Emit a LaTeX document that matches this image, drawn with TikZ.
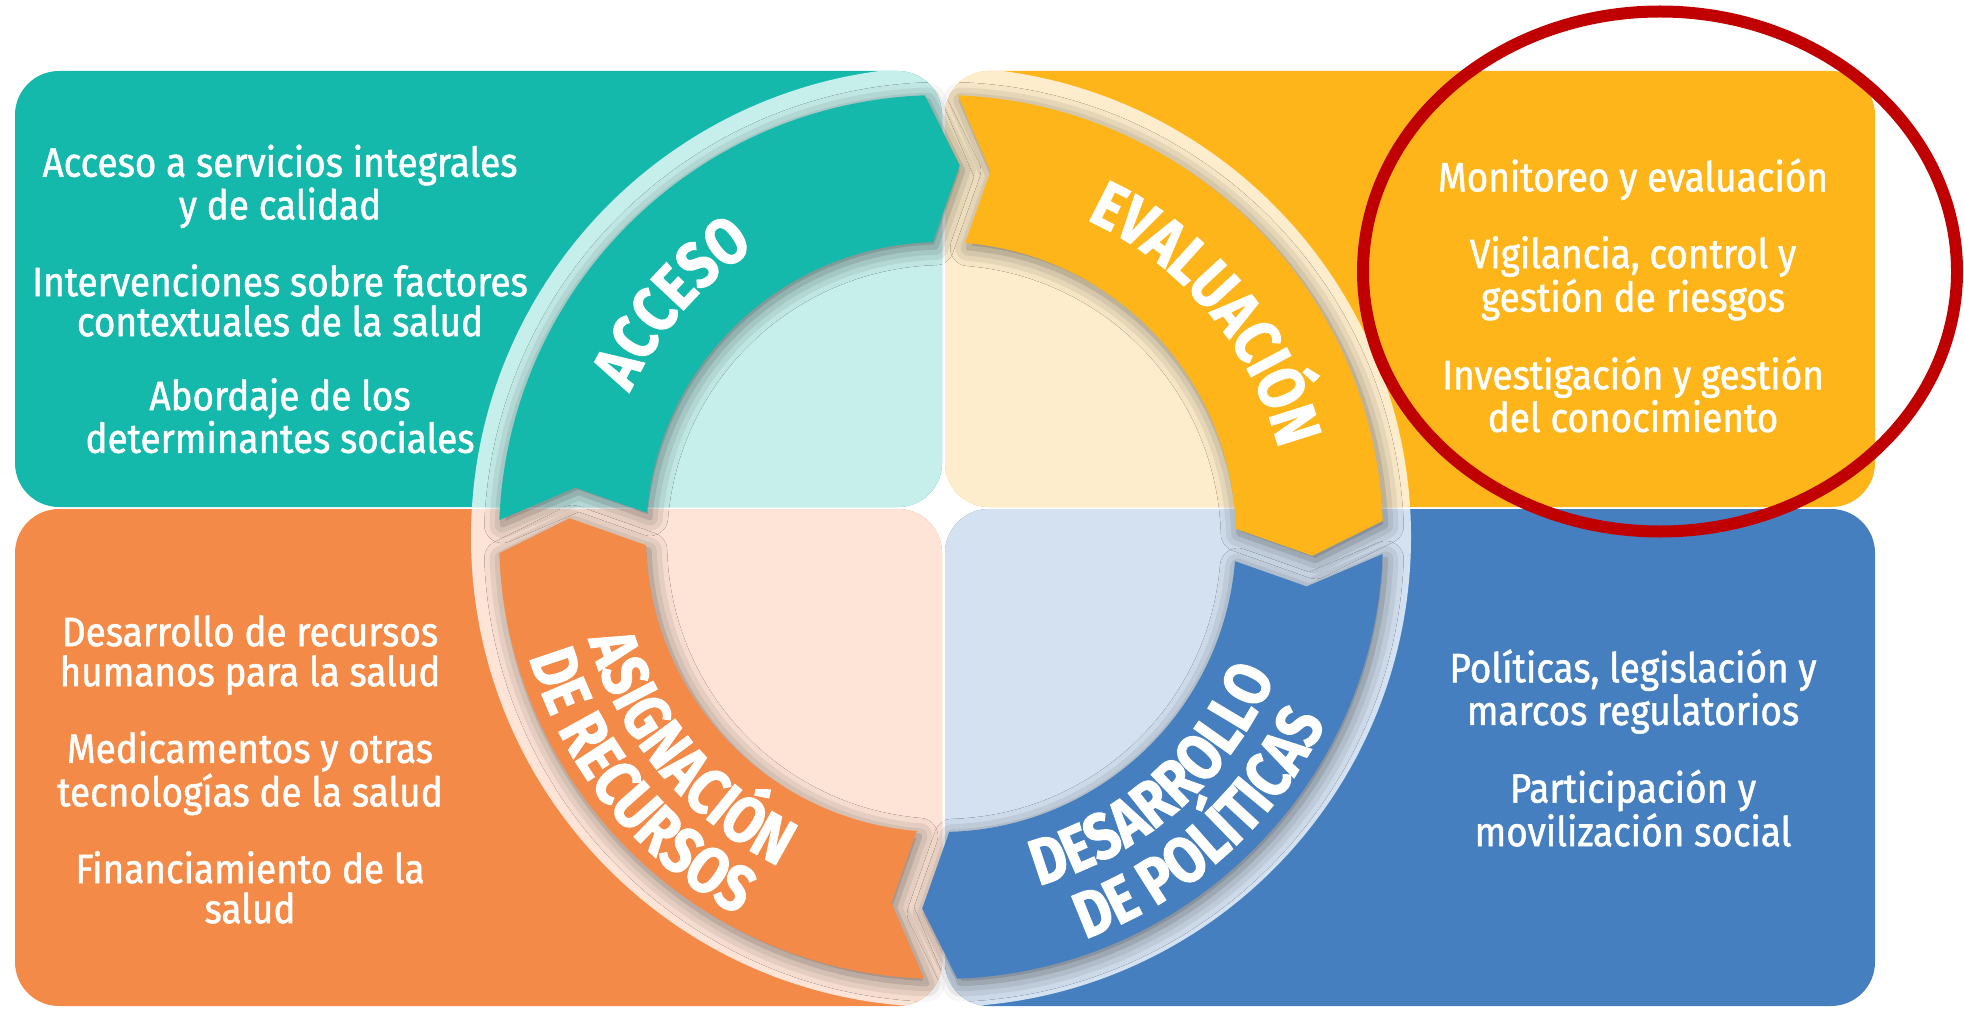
\documentclass[tikz,border=0pt]{standalone}
\usepackage{fontspec}
\setmainfont{Fira Sans}
\newfontfamily\itemfont[FakeStretch=0.9, FakeBold=1.3]{Fira Sans}
\newfontfamily\ringfont[FakeStretch=0.84, FakeBold=1.6]{Fira Sans}
\usetikzlibrary{positioning, decorations.text, shadows.blur}

\definecolor{tealc}{HTML}{14B9AC}
\definecolor{tealL}{HTML}{C6EEEA}
\definecolor{yellowc}{HTML}{FDB519}
\definecolor{yellowL}{HTML}{FDEDCC}
\definecolor{orangec}{HTML}{F48A47}
\definecolor{orangeL}{HTML}{FDE4D6}
\definecolor{bluec}{HTML}{457FC0}
\definecolor{blueL}{HTML}{D3E1F0}
\definecolor{markred}{HTML}{C00000}

\newcommand{\ringlabel}{\ringfont\bfseries\fontsize{32.5pt}{32.5pt}\selectfont}
% one arrow of the ring: tail angle, head angle
\newcommand{\ringpath}[2]{(#1:442) arc[start angle=#1, end angle=#2, radius=442]
	-- ({#2-5}:372) -- ({#2-0.5}:295)
	arc[start angle={#2-0.5}, end angle={#1-2.5}, radius=295]
	-- ({#1-5.5}:369) -- cycle}

\begin{document}
\begin{tikzpicture}[x=0.5pt, y=0.5pt,
		box/.style={inner sep=0pt, rounded corners=22pt},
		item/.style={text=white, align=center, font=\itemfont\fontsize{20.5pt}{20pt}\selectfont},
		ringshadow/.style={blur shadow={shadow xshift=1.5pt, shadow yshift=-2.5pt, shadow blur radius=9pt, shadow opacity=50}},
		ringtext/.style={decorate, decoration={text along path, text align=center, text color=white, text={|\ringlabel|#1}}}]
		\useasboundingbox (0,0) rectangle (1964,1009);
		\coordinate (ring) at (941,472);

		% Boxes
		\begin{scope}
			\node (acceso_box) at (478.5,720) [box, fill=tealc, minimum width=463.5pt, minimum height=218pt,
				path picture={\fill[tealL] (ring) circle[radius=470];}] {};
			\node (eval_box) at (1410,720) [box, fill=yellowc, minimum width=465pt, minimum height=218pt,
				path picture={\fill[yellowL] (ring) circle[radius=470];}] {};
			\node (recursos_box) at (478.5,251.5) [box, fill=orangec, minimum width=463.5pt, minimum height=248.5pt,
				path picture={\fill[orangeL] (ring) circle[radius=470];}] {};
			\node (politicas_box) at (1410,251.5) [box, fill=bluec, minimum width=465pt, minimum height=248.5pt,
				path picture={\fill[blueL] (ring) circle[radius=470];}] {};
		\end{scope}

		% Ring
		\begin{scope}[shift={(ring)}]
			\path[ringshadow] \ringpath{267.8}{182.1};
			\path[ringshadow] \ringpath{-2.2}{-87.9};
			\path[ringshadow] \ringpath{87.8}{2.1};
			\path[ringshadow] \ringpath{177.8}{92.1};

			\fill[orangec] \ringpath{267.8}{182.1};
			\fill[bluec] \ringpath{-2.2}{-87.9};
			\fill[yellowc] \ringpath{87.8}{2.1};
			\fill[tealc] \ringpath{177.8}{92.1};

			\path[ringtext=ACCESO] (179:343) arc[start angle=179, end angle=99, radius=343];
			\path[ringtext=EVALUACIÓN] (80:349) arc[start angle=80, end angle=0, radius=349];
			\path[ringtext=ASIGNACIÓN] (181:367) arc[start angle=181, end angle=259, radius=367];
			\path[ringtext=DE RECURSOS] (180:429) arc[start angle=180, end angle=258, radius=429];
			\path[ringtext=DESARROLLO] (-88.5:362) arc[start angle=-88.5, end angle=-8.5, radius=362];
			\path[ringtext=DE POLÍTICAS] (-88:427) arc[start angle=-88, end angle=-8, radius=427];
		\end{scope}

		% Items
		\begin{scope}
			\node (acceso_items) at (280,710) [item] {Acceso a servicios integrales\\y de calidad\\[17pt]
				Intervenciones sobre factores\\contextuales de la salud\\[17pt]
				Abordaje de los\\determinantes sociales};
			\node (eval_items) at (1633,713.5) [item] {Monitoreo y evaluación\\[17pt]
				Vigilancia, control y\\gestión de riesgos\\[17pt]
				Investigación y gestión\\del conocimiento};
			\node (recursos_items) at (250,239.5) [item] {Desarrollo de recursos\\humanos para la salud\\[17pt]
				Medicamentos y otras\\tecnologías de la salud\\[17pt]
				Financiamiento de la\\salud};
			\node (politicas_items) at (1633,261) [item] {Políticas, legislación y\\marcos regulatorios\\[17pt]
				Participación y\\movilización social};
		\end{scope}

		\draw[markred, line width=6pt] (1660,737.5) ellipse[x radius=297, y radius=260];

	\end{tikzpicture}
\end{document}
